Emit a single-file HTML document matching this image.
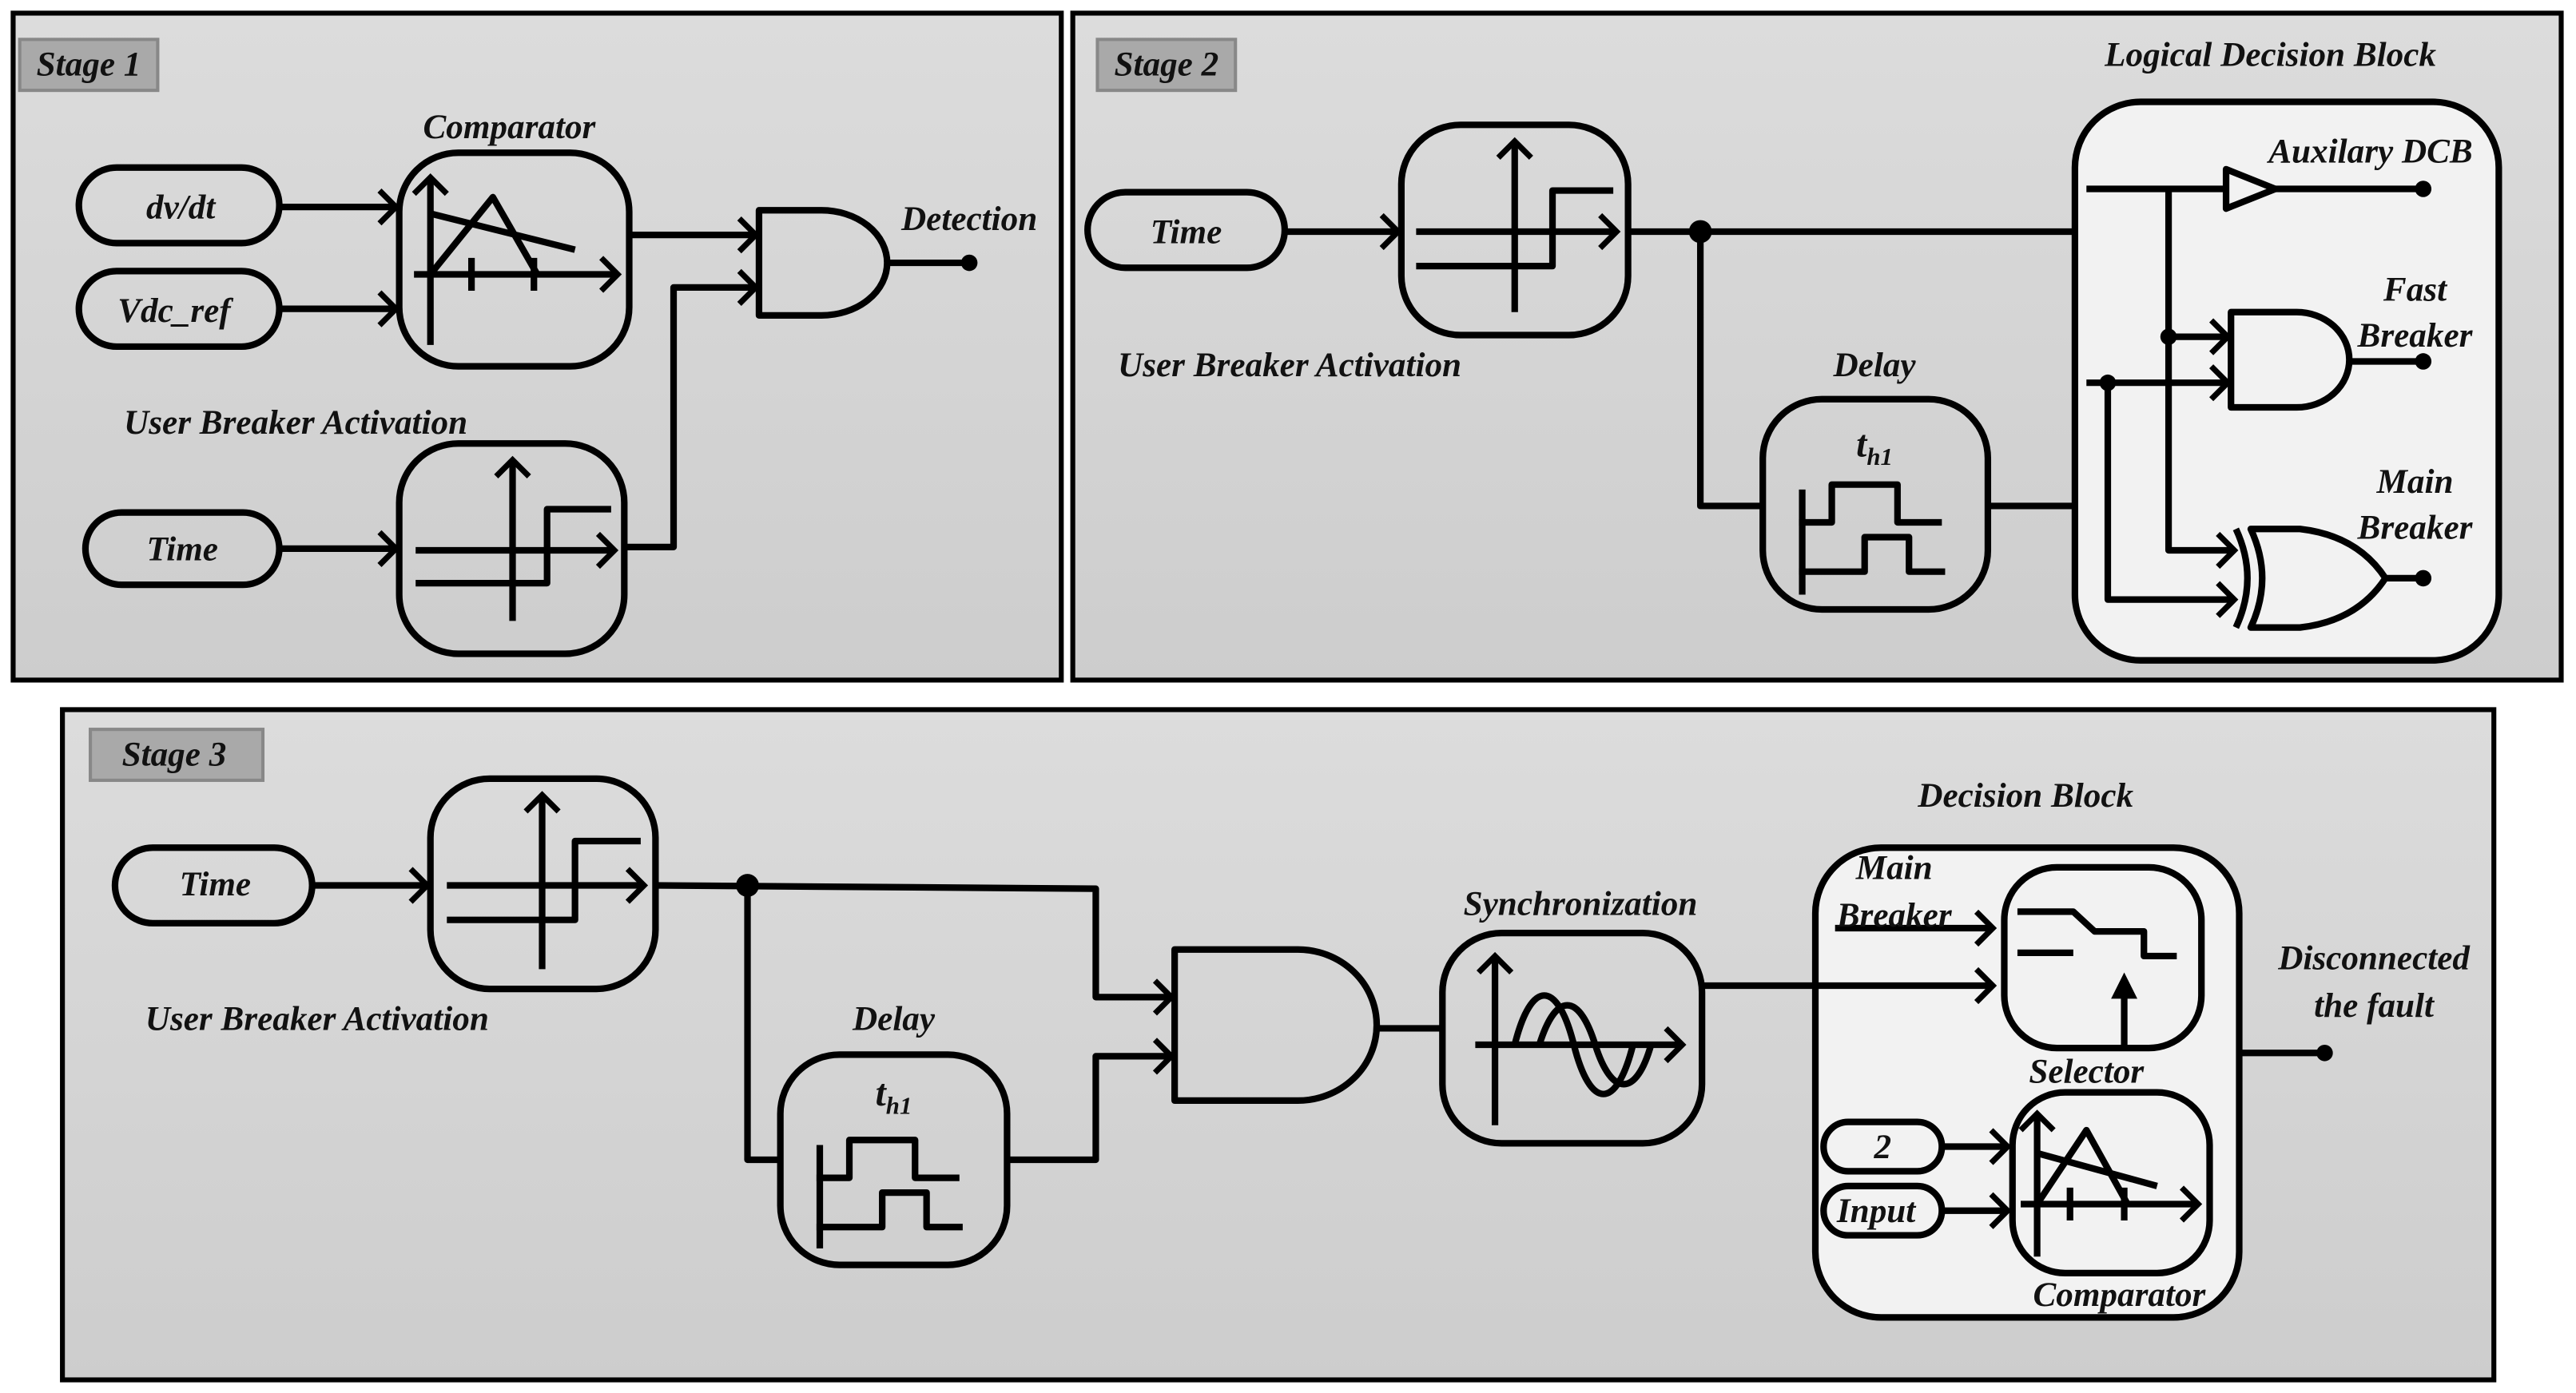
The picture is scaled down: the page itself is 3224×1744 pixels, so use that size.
<!DOCTYPE html>
<html><head><meta charset="utf-8"><style>
html,body{margin:0;padding:0;background:#fff;}
svg{display:block;}
text{font-family:"Liberation Serif","Times New Roman",serif;font-weight:bold;font-style:italic;font-size:21px;fill:#111;text-anchor:middle;}
</style></head><body>
<svg width="3224" height="1744" viewBox="0 0 1568 848" preserveAspectRatio="none" xmlns="http://www.w3.org/2000/svg">
<defs>
<linearGradient id="g" x1="0" y1="0" x2="0" y2="1"><stop offset="0" stop-color="#dcdcdc"/><stop offset="1" stop-color="#cdcdcd"/></linearGradient>
<marker id="a" markerUnits="userSpaceOnUse" markerWidth="20" markerHeight="24" refX="12" refY="12" orient="auto"><path d="M2,2 L12,12 L2,22" fill="none" stroke="#000" stroke-width="3.5"/></marker>
<marker id="f" markerUnits="userSpaceOnUse" markerWidth="20" markerHeight="24" refX="10" refY="10" orient="auto"><path d="M0,2 L16,10 L0,18 Z" fill="#000"/></marker>
</defs>
<g stroke="#000" stroke-width="3" fill="url(#g)">
<rect x="8" y="8" width="638" height="406"/>
<rect x="653" y="8" width="906" height="406"/>
<rect x="38" y="432" width="1480" height="408"/>
</g>
<g fill="#a9a9a9" stroke="#888" stroke-width="2">
<rect x="12" y="24" width="84" height="31"/><rect x="668" y="24" width="84" height="31"/><rect x="55" y="444" width="105" height="31"/>
</g>
<text x="54" y="46">Stage 1</text><text x="710" y="46">Stage 2</text><text x="106" y="466">Stage 3</text>

<g stroke="#000" stroke-width="4" fill="none" stroke-linejoin="round">
<rect x="48" y="102" width="122" height="46" rx="23"/>
<rect x="48" y="165" width="122" height="46" rx="23"/>
<rect x="243" y="93" width="140" height="130" rx="36"/>
<line x1="170" y1="126" x2="241" y2="126" marker-end="url(#a)"/>
<line x1="170" y1="188" x2="241" y2="188" marker-end="url(#a)"/>
<line x1="262" y1="210" x2="262" y2="108" marker-end="url(#a)"/>
<line x1="252" y1="167" x2="376" y2="167" marker-end="url(#a)"/>
<polyline points="262,167 300,120 327,167"/>
<line x1="262" y1="130" x2="350" y2="152"/>
<line x1="287" y1="157" x2="287" y2="177"/><line x1="325" y1="157" x2="325" y2="177"/>
<path d="M462,128 L500,128 A40,32 0 0 1 500,192 L462,192 Z"/>
<line x1="383" y1="143" x2="460" y2="143" marker-end="url(#a)"/>
<polyline points="380,333 410,333 410,175 460,175" marker-end="url(#a)"/>
<line x1="540" y1="160" x2="590" y2="160"/>
<rect x="52" y="312" width="118" height="44" rx="22"/>
<rect x="243" y="270" width="137" height="128" rx="36"/>
<line x1="170" y1="334" x2="241" y2="334" marker-end="url(#a)"/>
<line x1="312" y1="378" x2="312" y2="280" marker-end="url(#a)"/>
<line x1="253" y1="335" x2="374" y2="335" marker-end="url(#a)"/>
<polyline points="253,355 333,355 333,310 372,310"/>

<rect x="662" y="117" width="120" height="46" rx="23"/>
<rect x="853" y="76" width="138" height="128" rx="36"/>
<line x1="782" y1="141" x2="851" y2="141" marker-end="url(#a)"/>
<line x1="922" y1="190" x2="922" y2="86" marker-end="url(#a)"/>
<line x1="862" y1="141" x2="984" y2="141" marker-end="url(#a)"/>
<polyline points="862,162 945,162 945,116 982,116"/>
<line x1="991" y1="141" x2="1263" y2="141"/>
<polyline points="1035,141 1035,308 1073,308"/>
<rect x="1073" y="243" width="137" height="128" rx="36"/>
<line x1="1097" y1="298" x2="1097" y2="362"/>
<polyline points="1095,318 1115,318 1115,295 1155,295 1155,318 1182,318"/>
<polyline points="1095,348 1135,348 1135,327 1162,327 1162,348 1184,348"/>
<line x1="1210" y1="308" x2="1263" y2="308"/>
<rect x="1263" y="62" width="258" height="340" rx="40" fill="#f2f2f2"/>
<line x1="1270" y1="115" x2="1355" y2="115"/>
<path d="M1355,103 L1385,115 L1355,127 Z"/>
<line x1="1385" y1="115" x2="1475" y2="115"/>
<polyline points="1320,115 1320,335 1360,335" marker-end="url(#a)"/>
<line x1="1320" y1="205" x2="1356" y2="205" marker-end="url(#a)"/>
<line x1="1270" y1="233" x2="1356" y2="233" marker-end="url(#a)"/>
<polyline points="1283,233 1283,365 1360,365" marker-end="url(#a)"/>
<path d="M1358,190 L1398,190 A32,29 0 0 1 1398,248 L1358,248 Z"/>
<line x1="1430" y1="220" x2="1475" y2="220"/>
<path d="M1370,322 Q1384,352 1370,382 L1400,382 Q1435,378 1452,352 Q1435,326 1400,322 Z"/>
<path d="M1361,322 Q1375,352 1361,382"/>
<line x1="1452" y1="352" x2="1475" y2="352"/>

<rect x="70" y="516" width="120" height="46" rx="23"/>
<rect x="262" y="474" width="137" height="128" rx="36"/>
<line x1="190" y1="539" x2="260" y2="539" marker-end="url(#a)"/>
<line x1="330" y1="590" x2="330" y2="484" marker-end="url(#a)"/>
<line x1="272" y1="539" x2="392" y2="539" marker-end="url(#a)"/>
<polyline points="272,560 350,560 350,512 390,512"/>
<polyline points="399,539 667,541 667,607 713,607" marker-end="url(#a)"/>
<polyline points="455,539 455,706 475,706"/>
<rect x="475" y="642" width="138" height="128" rx="36"/>
<line x1="499" y1="697" x2="499" y2="760"/>
<polyline points="497,717 517,717 517,694 557,694 557,717 584,717"/>
<polyline points="497,747 537,747 537,726 564,726 564,747 586,747"/>
<polyline points="613,706 667,706 667,643 713,643" marker-end="url(#a)"/>
<path d="M715,578 L790,578 A48,46 0 0 1 790,670 L715,670 Z"/>
<line x1="838" y1="626" x2="878" y2="626"/>
<rect x="878" y="568" width="158" height="128" rx="36"/>
<line x1="910" y1="685" x2="910" y2="582" marker-end="url(#a)"/>
<line x1="898" y1="636" x2="1024" y2="636" marker-end="url(#a)"/>
<path d="M922,636 C932,596 948,596 958,636 S984,676 994,636"/>
<path d="M937,636 C947,604 961,604 971,636 S996,668 1005,636"/>
<rect x="1105" y="516" width="258" height="286" rx="40" fill="#f2f2f2"/>
<line x1="1036" y1="600" x2="1213" y2="600" marker-end="url(#a)"/>
<line x1="1117" y1="565" x2="1213" y2="565" marker-end="url(#a)"/>
<rect x="1220" y="528" width="120" height="110" rx="32"/>
<polyline points="1228,555 1262,555 1275,567 1305,567 1305,582 1325,582"/>
<line x1="1228" y1="580" x2="1262" y2="580"/>
<line x1="1293" y1="636" x2="1293" y2="598" marker-end="url(#f)"/>
<rect x="1225" y="665" width="120" height="110" rx="32"/>
<rect x="1110" y="683" width="72" height="30" rx="15"/>
<rect x="1110" y="722" width="72" height="30" rx="15"/>
<line x1="1182" y1="698" x2="1222" y2="698" marker-end="url(#a)"/>
<line x1="1182" y1="737" x2="1222" y2="737" marker-end="url(#a)"/>
<line x1="1240" y1="765" x2="1240" y2="678" marker-end="url(#a)"/>
<line x1="1230" y1="733" x2="1338" y2="733" marker-end="url(#a)"/>
<polyline points="1240,733 1270,688 1295,733"/>
<line x1="1240" y1="702" x2="1313" y2="722"/>
<line x1="1260" y1="723" x2="1260" y2="743"/><line x1="1293" y1="723" x2="1293" y2="743"/>
<line x1="1363" y1="641" x2="1415" y2="641"/>
</g>
<g fill="#000">
<circle cx="590" cy="160" r="5"/><circle cx="1035" cy="141" r="7"/><circle cx="1475" cy="115" r="5"/>
<circle cx="1475" cy="220" r="5"/><circle cx="1475" cy="352" r="5"/><circle cx="1320" cy="205" r="5"/>
<circle cx="1283" cy="233" r="5"/><circle cx="455" cy="539" r="7"/><circle cx="1415" cy="641" r="5"/>
</g>

<text x="110" y="133">dv/dt</text>
<text x="106" y="196">Vdc_ref</text>
<text x="310" y="84">Comparator</text>
<text x="590" y="140">Detection</text>
<text x="180" y="264">User Breaker Activation</text>
<text x="111" y="341">Time</text>

<text x="722" y="148">Time</text>
<text x="785" y="229">User Breaker Activation</text>
<text x="1141" y="229">Delay</text>
<text x="1141" y="278" style="font-size:23px">t<tspan style="font-size:15px" dy="5">h1</tspan></text>
<text x="1382" y="40">Logical Decision Block</text>
<text x="1443" y="99">Auxilary DCB</text>
<text x="1470" y="183">Fast</text><text x="1470" y="211">Breaker</text>
<text x="1470" y="300">Main</text><text x="1470" y="328">Breaker</text>

<text x="131" y="545">Time</text>
<text x="193" y="627">User Breaker Activation</text>
<text x="544" y="627">Delay</text>
<text x="544" y="673" style="font-size:23px">t<tspan style="font-size:15px" dy="5">h1</tspan></text>
<text x="962" y="557">Synchronization</text>
<text x="1233" y="491">Decision Block</text>
<text x="1153" y="535">Main</text><text x="1153" y="564">Breaker</text>
<text x="1270" y="659">Selector</text>
<text x="1146" y="705">2</text>
<text x="1142" y="744">Input</text>
<text x="1290" y="795">Comparator</text>
<text x="1445" y="590">Disconnected</text><text x="1445" y="619">the fault</text>
</svg>
</body></html>
